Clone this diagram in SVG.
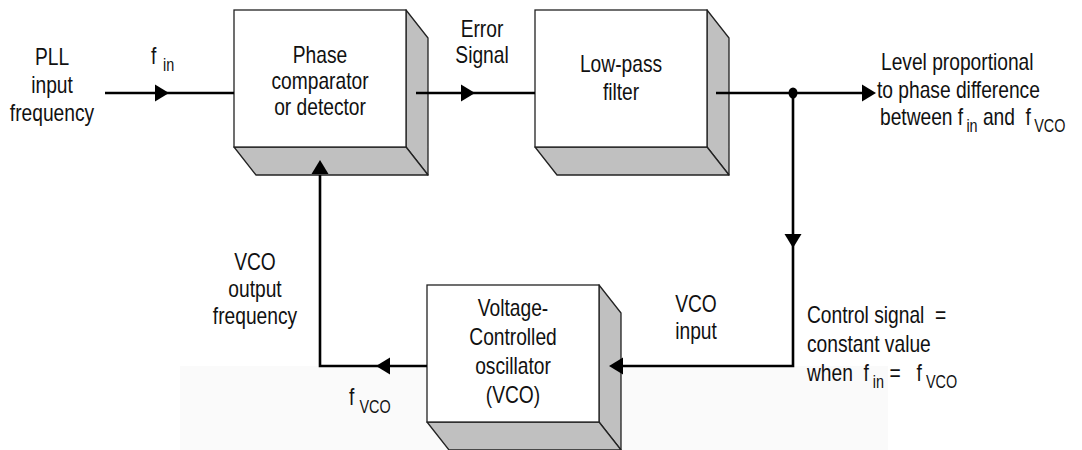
<svg xmlns="http://www.w3.org/2000/svg" xmlns:xlink="http://www.w3.org/1999/xlink" width="1082" height="450" viewBox="0 0 1082 450">
<style>
text{font-family:'Liberation Sans',Arial,sans-serif;font-size:24px;fill:#111}
.c{text-anchor:middle}
.sub{font-size:18px}
.front{fill:#fff;stroke:#222;stroke-width:1.3}
.side{fill:#c0c0c0;stroke:#222;stroke-width:1.3;stroke-linejoin:round}
.ln{fill:none;stroke:#000;stroke-width:2.6}
.ah{fill:#000}
</style>
<defs>
<path id="ah" d="M0,0 L-14,-8.5 L-14,8.5 Z"/>
</defs>
<rect width="1082" height="450" fill="#fff"/>
<rect x="180" y="366" width="708" height="84" fill="#fafafa"/>

<g id="phase-comparator">
<polygon class="side" points="406,10 428,38 428,175 406,147"/>
<polygon class="side" points="234,147 406,147 428,175 256,175"/>
<rect class="front" x="234" y="10" width="172" height="137"/>
<text class="c" transform="translate(320,63) scale(0.8,1)">Phase</text>
<text class="c" transform="translate(320,89) scale(0.8,1)">comparator</text>
<text class="c" transform="translate(320,115) scale(0.8,1)">or detector</text>
</g>

<g id="low-pass-filter">
<polygon class="side" points="707,10 729,38 729,175 707,147"/>
<polygon class="side" points="535,147 707,147 729,175 557,175"/>
<rect class="front" x="535" y="10" width="172" height="137"/>
<text class="c" transform="translate(621,72) scale(0.8,1)">Low-pass</text>
<text class="c" transform="translate(621,100) scale(0.8,1)">filter</text>
</g>

<g id="vco">
<polygon class="side" points="599,285 621,313 621,450 599,422"/>
<polygon class="side" points="427,422 599,422 621,450 449,450"/>
<rect class="front" x="427" y="285" width="172" height="137"/>
<text class="c" transform="translate(513,316) scale(0.8,1)">Voltage-</text>
<text class="c" transform="translate(513,345) scale(0.8,1)">Controlled</text>
<text class="c" transform="translate(513,374) scale(0.8,1)">oscillator</text>
<text class="c" transform="translate(513,403) scale(0.8,1)">(VCO)</text>
</g>

<g id="connectors">
<path class="ln" d="M105,93 H234"/>
<path class="ln" d="M416,93 H535"/>
<path class="ln" d="M716,93 H864"/>
<path class="ln" d="M793,93 V366 H622"/>
<path class="ln" d="M427,366 H320 V175"/>
<use href="#ah" class="ah" transform="translate(169,93)"/>
<use href="#ah" class="ah" transform="translate(475,93)"/>
<use href="#ah" class="ah" transform="translate(876,93)"/>
<use href="#ah" class="ah" transform="translate(793,248) rotate(90)"/>
<use href="#ah" class="ah" transform="translate(609,366) rotate(180)"/>
<use href="#ah" class="ah" transform="translate(376,366) rotate(180)"/>
<use href="#ah" class="ah" transform="translate(320,160) rotate(-90)"/>
<ellipse cx="793" cy="93" rx="4.5" ry="5.5" fill="#000"/>
</g>

<g id="labels">
<text class="c" transform="translate(52,65) scale(0.8,1)">PLL</text>
<text class="c" transform="translate(52,93) scale(0.8,1)">input</text>
<text class="c" transform="translate(52,121) scale(0.8,1)">frequency</text>
<text transform="translate(151,64) scale(0.8,1)">f<tspan class="sub" x="15" y="7">in</tspan></text>
<text class="c" transform="translate(482,37) scale(0.8,1)">Error</text>
<text class="c" transform="translate(482,63) scale(0.8,1)">Signal</text>
<text transform="translate(881,70) scale(0.8,1)">Level proportional</text>
<text transform="translate(877,98) scale(0.8,1)">to phase difference</text>
<text xml:space="preserve" transform="translate(880,125) scale(0.8,1)">between f<tspan class="sub" dx="4" dy="7">in</tspan><tspan dy="-7"> and  f</tspan><tspan class="sub" dx="4" dy="7">VCO</tspan></text>
<text class="c" transform="translate(255,270) scale(0.8,1)">VCO</text>
<text class="c" transform="translate(255,297) scale(0.8,1)">output</text>
<text class="c" transform="translate(255,324) scale(0.8,1)">frequency</text>
<text transform="translate(349,405) scale(0.8,1)">f<tspan class="sub" x="13" y="8">VCO</tspan></text>
<text class="c" transform="translate(696,312) scale(0.8,1)">VCO</text>
<text class="c" transform="translate(696,339) scale(0.8,1)">input</text>
<text xml:space="preserve" transform="translate(807,323) scale(0.8,1)">Control signal  =</text>
<text transform="translate(807,352) scale(0.8,1)">constant value</text>
<text xml:space="preserve" transform="translate(807,381) scale(0.8,1)">when  f<tspan class="sub" dx="5" dy="7">in</tspan><tspan dy="-7"> =   f</tspan><tspan class="sub" dx="5" dy="7">VCO</tspan></text>
</g>
</svg>
